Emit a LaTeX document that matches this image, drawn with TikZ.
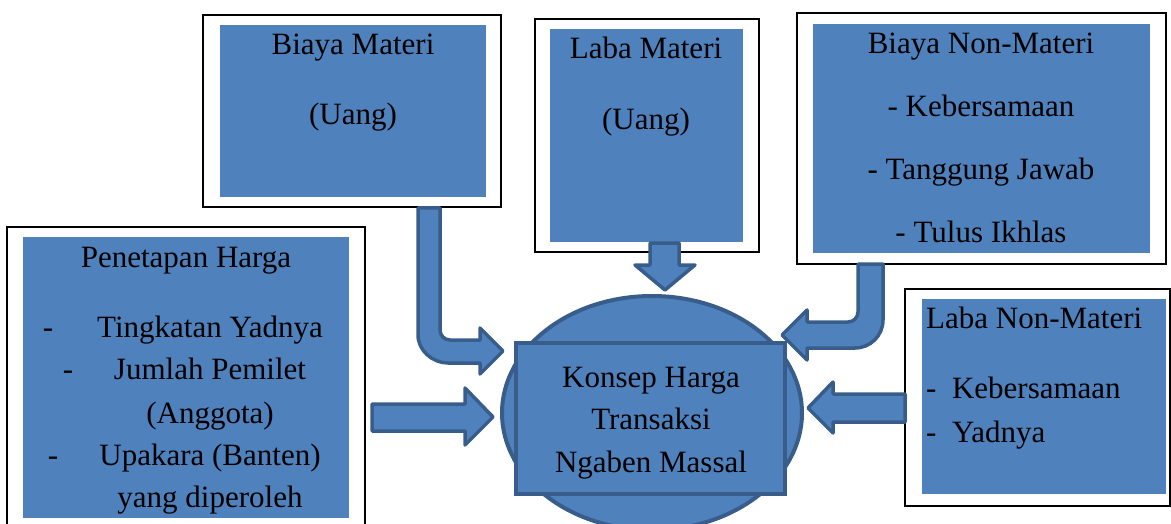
\documentclass[tikz,border=0pt]{standalone}
\usepackage{fontspec}
\setmainfont{Liberation Serif}
\newfontfamily\timesface{Liberation Serif}
\usetikzlibrary{shapes.geometric}
\definecolor{panelblue}{HTML}{4F81BD}
\definecolor{edgeblue}{HTML}{385D8A}

\begin{document}
\begin{tikzpicture}[
        x=1pt, y=-1pt,
        frame/.style={draw=black, fill=white, line width=1.2pt, inner sep=0pt},
        panel/.style={fill=panelblue, inner sep=0pt},
        hub/.style={draw=edgeblue, fill=panelblue, line width=4pt, inner sep=0pt},
        blockarrow/.style={draw=edgeblue, fill=panelblue, line width=3.5pt, line join=round},
        lbl/.style={anchor=base, inner sep=0pt, font=\timesface\fontsize{31}{37}\selectfont},
        lblleft/.style={lbl, anchor=base west},
    ]
    \useasboundingbox (0,0) rectangle (1171,524);
    \clip (0,0) rectangle (1171,524);

    % outer frames and blue panels
    \node[frame, minimum width=298pt, minimum height=192pt](bmFrame) at (352,111){};
    \node[panel, minimum width=266pt, minimum height=172pt](bmPanel) at (353,111){};
    \node[frame, minimum width=224pt, minimum height=233pt](lmFrame) at (647,135.5){};
    \node[panel, minimum width=193pt, minimum height=213pt](lmPanel) at (646.5,135.5){};
    \node[frame, minimum width=369pt, minimum height=251pt](bnmFrame) at (981.5,138.5){};
    \node[panel, minimum width=337pt, minimum height=229pt](bnmPanel) at (981.5,138.5){};
    \node[frame, minimum width=358pt, minimum height=313pt](phFrame) at (186,383.5){};
    \node[panel, minimum width=326pt, minimum height=281pt](phPanel) at (186,377.5){};
    \node[frame, minimum width=265pt, minimum height=217pt](lnmFrame) at (1037.5,397.5){};
    \node[panel, minimum width=244pt, minimum height=195pt](lnmPanel) at (1044,396.5){};

    % centre
    \node[hub, ellipse, minimum width=300pt, minimum height=234pt](hubOval) at (652,413){};
    \node[hub, rectangle, minimum width=269pt, minimum height=151pt](konsep) at (650.5,418.5){};

    % block arrows
    \draw[blockarrow] (418,208) -- (418,335) .. controls (418,350.5) and (432.5,363) .. (448,363)
        -- (480,363) -- (480,374) -- (503,351) -- (480,328) -- (480,340) -- (450,340)
        .. controls (444.5,340) and (440,335.5) .. (440,330) -- (440,208) -- cycle;
    \draw[blockarrow] (650,243) -- (679,243) -- (679,265) -- (695,265) -- (665,290)
        -- (635,265) -- (650,265) -- cycle;
    \draw[blockarrow] (858,264) -- (883,264) -- (883,320) .. controls (883,335.5) and (870.5,348) .. (855,348)
        -- (807,348) -- (807,360) -- (782,335) -- (807,310) -- (807,322) -- (848,322)
        .. controls (853.5,322) and (858,317.5) .. (858,312) -- cycle;
    \draw[blockarrow] (905,394) -- (833,394) -- (833,382) -- (808,408) -- (833,433)
        -- (833,422) -- (905,422) -- cycle;
    \draw[blockarrow] (372,404) -- (465,404) -- (465,388) -- (493,417) -- (465,445)
        -- (465,431) -- (372,431) -- cycle;

    % texts
    \node[lbl](bm1) at (353,55){Biaya Materi};
    \node[lbl](bm2) at (353,125){(Uang)};
    \node[lbl](lm1) at (646,59){Laba Materi};
    \node[lbl](lm2) at (646,130){(Uang)};
    \node[lbl](bnm1) at (981,54){Biaya Non-Materi};
    \node[lbl](bnm2) at (981,117){- Kebersamaan};
    \node[lbl](bnm3) at (981,180){- Tanggung Jawab};
    \node[lbl](bnm4) at (981,243){- Tulus Ikhlas};
    \node[lbl](ph1) at (186,267){Penetapan Harga};
    \node[lbl](phd1) at (48,337){-};
    \node[lbl](ph2) at (210,337){Tingkatan Yadnya};
    \node[lbl](phd2) at (68,379){-};
    \node[lbl](ph3) at (210,379){Jumlah Pemilet};
    \node[lbl](ph4) at (210,423){(Anggota)};
    \node[lbl](phd3) at (53,465){-};
    \node[lbl](ph5) at (210,465){Upakara (Banten)};
    \node[lbl](ph6) at (210,507){yang diperoleh};
    \node[lblleft](lnm1) at (926,328){Laba Non-Materi};
    \node[lblleft](lnm2) at (926,398){-~~Kebersamaan};
    \node[lblleft](lnm3) at (926,442){-~~Yadnya};
    \node[lbl](k1) at (651,387){Konsep Harga};
    \node[lbl](k2) at (651,429){Transaksi};
    \node[lbl](k3) at (651,472){Ngaben Massal};
\end{tikzpicture}
\end{document}
